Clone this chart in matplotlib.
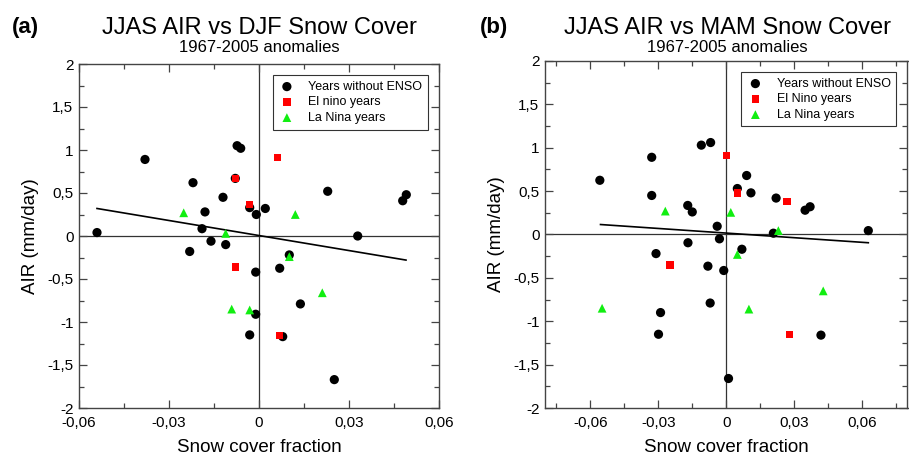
import matplotlib
matplotlib.use("Agg")
import matplotlib.pyplot as plt
from matplotlib.ticker import MultipleLocator

plt.rcParams["font.family"] = ["Liberation Sans", "DejaVu Sans"]

# DATA

# panel (a): JJAS AIR vs DJF snow cover
djf_none_x = [-0.054, -0.038, -0.022, -0.018, -0.012, -0.0073, -0.0061, -0.0031,
              -0.0009, -0.019, -0.016, 0.0021, 0.0229, 0.0479, 0.0491, 0.0329,
              -0.0231, -0.0111, -0.0011, 0.0101, 0.0069, 0.0138, -0.0011, -0.0031,
              0.0079, 0.0251, -0.0079]
djf_none_y = [0.04, 0.89, 0.62, 0.28, 0.45, 1.05, 1.02, 0.33,
              0.25, 0.085, -0.06, 0.32, 0.52, 0.41, 0.48, 0.0,
              -0.18, -0.10, -0.42, -0.22, -0.375, -0.79, -0.91, -1.15,
              -1.17, -1.67, 0.67]
djf_nino_x = [-0.0079, -0.0031, 0.0061, -0.0079, 0.0069]
djf_nino_y = [0.67, 0.37, 0.91, -0.36, -1.16]
djf_nina_x = [-0.0251, -0.0111, 0.0121, 0.0101, -0.0091, -0.0031, 0.0211]
djf_nina_y = [0.27, 0.03, 0.25, -0.24, -0.85, -0.86, -0.66]
djf_fit_x = [-0.054, 0.049]
djf_fit_y = [0.32, -0.28]

# panel (b): JJAS AIR vs MAM snow cover
mam_none_x = [-0.0558, -0.0329, -0.0329, -0.017, -0.015, -0.011, -0.0069, -0.004,
              -0.003, 0.0049, 0.009, 0.0109, 0.022, 0.0348, 0.037, 0.0208,
              0.0627, -0.031, -0.0169, -0.0081, -0.0011, -0.0071, -0.029, -0.0299,
              0.001, 0.0069, 0.0418]
mam_none_y = [0.625, 0.89, 0.45, 0.335, 0.26, 1.03, 1.06, 0.095,
              -0.05, 0.53, 0.68, 0.48, 0.42, 0.28, 0.32, 0.015,
              0.045, -0.22, -0.095, -0.365, -0.415, -0.79, -0.90, -1.15,
              -1.66, -0.17, -1.16]
mam_nino_x = [0.0, 0.005, 0.0268, -0.0249, 0.0278]
mam_nino_y = [0.91, 0.48, 0.38, -0.35, -1.15]
mam_nina_x = [-0.0269, 0.002, 0.023, -0.0548, 0.0049, 0.010, 0.0428]
mam_nina_y = [0.27, 0.255, 0.045, -0.85, -0.23, -0.86, -0.65]
mam_fit_x = [-0.0555, 0.0627]
mam_fit_y = [0.115, -0.095]

x_ticks = [-0.06, -0.03, 0, 0.03, 0.06]
x_tick_labels = ["-0,06", "-0,03", "0", "0,03", "0,06"]
y_ticks = [-2, -1.5, -1, -0.5, 0, 0.5, 1, 1.5, 2]
y_tick_labels = ["-2", "-1,5", "-1", "-0,5", "0", "0,5", "1", "1,5", "2"]

RED = "#ff0000"
GREEN = "#11ee11"
FRAME = "#444444"


def draw_panel(ax, none_x, none_y, nino_x, nino_y, nina_x, nina_y,
               fit_x, fit_y, xlim, nino_label):
    ax.axhline(0, color="#333333", linewidth=0.9, zorder=1)
    ax.axvline(0, color="#333333", linewidth=0.9, zorder=1)
    ax.plot(fit_x, fit_y, color="black", linewidth=1.2, zorder=2)

    ax.scatter(none_x, none_y, s=44, color="black", edgecolors="none",
               zorder=3, label="Years without ENSO")
    ax.scatter(nino_x, nino_y, s=28, marker="s", color=RED, edgecolors="none",
               zorder=4, label=nino_label)
    ax.scatter(nina_x, nina_y, s=40, marker="^", color=GREEN, edgecolors="none",
               zorder=5, label="La Nina years")

    ax.set_xlim(xlim)
    ax.set_ylim(-2, 2)
    ax.set_xticks(x_ticks)
    ax.set_xticklabels(x_tick_labels)
    ax.set_yticks(y_ticks)
    ax.set_yticklabels(y_tick_labels)
    ax.xaxis.set_minor_locator(MultipleLocator(0.015))
    ax.yaxis.set_minor_locator(MultipleLocator(0.25))
    ax.tick_params(which="both", direction="in", top=True, right=True,
                   color=FRAME, labelsize=11)
    ax.tick_params(which="major", length=6, width=0.9)
    ax.tick_params(which="minor", length=3.5, width=0.9)
    ax.tick_params(axis="x", pad=6)
    ax.tick_params(axis="y", pad=4)
    for spine in ax.spines.values():
        spine.set_color(FRAME)
        spine.set_linewidth(1.0)

    ax.set_xlabel("Snow cover fraction", fontsize=13.5, labelpad=6)
    ax.set_ylabel("AIR (mm/day)", fontsize=13.5, labelpad=6)

    leg = ax.legend(loc="upper right", fontsize=9, frameon=True, fancybox=False,
                    edgecolor="black", handlelength=1.4, handletextpad=1.0,
                    labelspacing=0.28, borderpad=0.45, borderaxespad=0.9)
    leg.get_frame().set_linewidth(0.8)


fig = plt.figure(figsize=(9.09, 4.62), dpi=100)

ax1 = fig.add_axes([79 / 909, 54 / 462, 360 / 909, 344 / 462])
ax2 = fig.add_axes([545 / 909, 54 / 462, 362.5 / 909, 347 / 462])

draw_panel(ax1, djf_none_x, djf_none_y, djf_nino_x, djf_nino_y,
           djf_nina_x, djf_nina_y, djf_fit_x, djf_fit_y, (-0.06, 0.06),
           "El nino years")
draw_panel(ax2, mam_none_x, mam_none_y, mam_nino_x, mam_nino_y,
           mam_nina_x, mam_nina_y, mam_fit_x, mam_fit_y, (-0.08, 0.08),
           "El Nino years")

# titles
fig.text(259 / 909, 1 - 28 / 462, "JJAS AIR vs DJF Snow Cover",
         ha="center", va="center", fontsize=17)
fig.text(259 / 909, 1 - 47 / 462, "1967-2005 anomalies",
         ha="center", va="center", fontsize=12)
fig.text(727 / 909, 1 - 28 / 462, "JJAS AIR vs MAM Snow Cover",
         ha="center", va="center", fontsize=17)
fig.text(727 / 909, 1 - 47 / 462, "1967-2005 anomalies",
         ha="center", va="center", fontsize=12)

fig.text(25 / 909, 1 - 28 / 462, "(a)", ha="center", va="center",
         fontsize=16, fontweight="bold")
fig.text(494 / 909, 1 - 28 / 462, "(b)", ha="center", va="center",
         fontsize=16, fontweight="bold")

plt.savefig("out.png", dpi=100)
